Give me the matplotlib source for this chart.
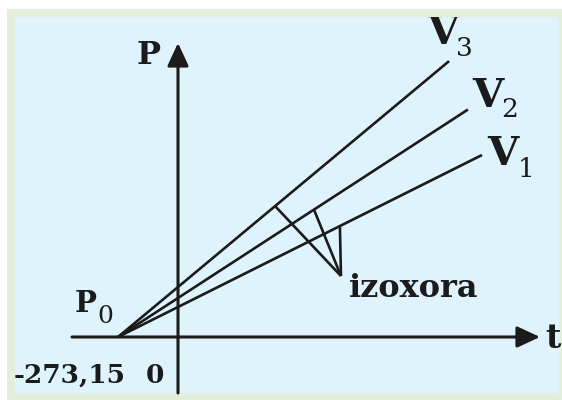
import matplotlib
matplotlib.use("Agg")
import matplotlib.pyplot as plt
from matplotlib.patches import Rectangle

plt.rcParams['font.family'] = 'DejaVu Serif'

# data: isochores P = P0 * (1 + t / 273.15)
t_zero = -273.15
labels = ["1", "2", "3"]
p_at_0 = [3.0, 3.9, 5.0]
t_end = [1384, 1320, 1234]
# points where the "izoxora" pointer touches each line
t_pointer = [737, 619, 442]
pointer_tip = (742, 6.1)

# pixel -> data helpers (layout only)
SCALE_T = 273.15 / 60.0


def dx(x):
    return (x - 178) * SCALE_T


def dy(y):
    return (337 - y) / 10.0


def pressure(p0, t):
    return p0 * (1 + t / 273.15)


INK = "#1b1b1b"
FRAME = "#e3efdb"

fig = plt.figure(figsize=(5.62, 4.0), dpi=100)
fig.patch.set_facecolor("white")
ax = fig.add_axes([0, 0, 1, 1])
ax.set_xlim(dx(0), dx(562))
ax.set_ylim(dy(400), dy(0))
ax.axis("off")

# frame + background
ax.add_patch(Rectangle((7 / 562, 0), 555 / 562, 391 / 400, transform=ax.transAxes,
                       facecolor=FRAME, edgecolor="none", zorder=0))
ax.add_patch(Rectangle((15 / 562, 7 / 400), 544 / 562, 376 / 400, transform=ax.transAxes,
                       facecolor="#dff3fc", edgecolor="none", zorder=0))
# top strip of the frame drawn over the labels (V3 is cut by it)
ax.add_patch(Rectangle((7 / 562, 383 / 400), 555 / 562, 8 / 400, transform=ax.transAxes,
                       facecolor=FRAME, edgecolor="none", zorder=10))

# axes with arrows
arrow = dict(arrowstyle="-|>,head_length=1.4,head_width=0.65", mutation_scale=10,
             lw=2.2, color=INK, shrinkA=0, shrinkB=0)
ax.annotate("", xy=(dx(540), 0), xytext=(dx(72), 0), arrowprops=arrow)
ax.annotate("", xy=(0, dy(43)), xytext=(0, dy(393)), arrowprops=arrow)

# isochore lines
for p0, te in zip(p_at_0, t_end):
    ax.plot([t_zero, te], [0, pressure(p0, te)], color=INK, lw=1.9,
            solid_capstyle="butt", zorder=3)

# pointer lines for "izoxora"
for p0, tp in zip(p_at_0, t_pointer):
    ax.plot([pointer_tip[0], tp], [pointer_tip[1], pressure(p0, tp)], color=INK,
            lw=1.9, solid_capstyle="butt", zorder=3)

# V labels (letter + subscript), positions in pixels
v_pos = [(487, 165, 518, 177), (472, 107, 501, 117), (427, 44, 456, 56)]
for lab, (xv, yv, xs, ys) in zip(labels, v_pos):
    ax.text(dx(xv), dy(yv), "V", fontsize=29, fontweight="bold", color=INK,
            ha="left", va="baseline")
    ax.text(dx(xs), dy(ys), lab, fontsize=19, color=INK, ha="left", va="baseline")

ax.text(dx(136), dy(64), "P", fontsize=23, fontweight="bold", color=INK,
        ha="left", va="baseline")
ax.text(dx(75), dy(312), "P", fontsize=21, fontweight="bold", color=INK,
        ha="left", va="baseline")
ax.text(dx(97), dy(323), "0", fontsize=18, color=INK, ha="left", va="baseline")
ax.text(dx(545), dy(348), "t", fontsize=24, fontweight="bold", color=INK,
        ha="left", va="baseline")
ax.text(dx(14), dy(383), "-273,15", fontsize=19, fontweight="bold", color=INK,
        ha="left", va="baseline")
ax.text(dx(146), dy(383), "0", fontsize=19, fontweight="bold", color=INK,
        ha="left", va="baseline")
ax.text(dx(349), dy(297), "izoxora", fontsize=23, fontweight="bold", color=INK,
        ha="left", va="baseline")

fig.savefig("out.png", dpi=100)
